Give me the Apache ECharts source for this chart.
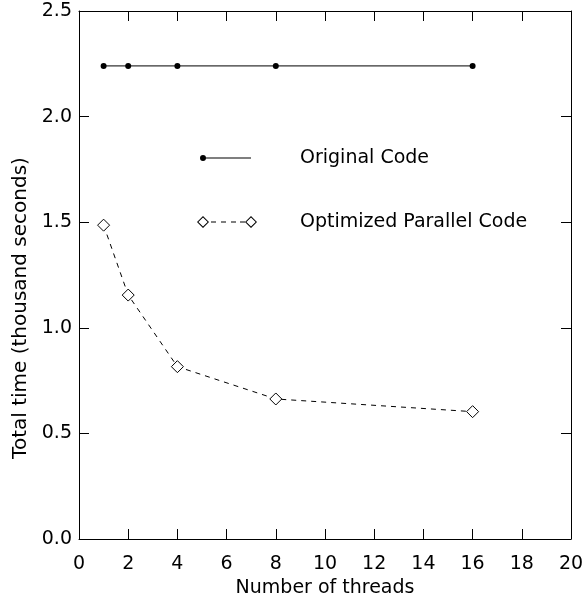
<!DOCTYPE html>
<html>
<head>
<meta charset="utf-8">
<script src="https://cdn.jsdelivr.net/npm/echarts@6/dist/echarts.min.js"></script>
<style>
html,body{margin:0;padding:0;background:#fff;}
#chart{width:584px;height:599px;}
</style>
</head>
<body>
<div id="chart"></div>
<script>
// ---- data ----
var threads = [1, 2, 4, 8, 16];
var originalTime = [2.24, 2.24, 2.24, 2.24, 2.24];
var optimizedTime = [1.486, 1.155, 0.816, 0.663, 0.603];
var seriesNames = ['Original Code', 'Optimized Parallel Code'];
var xTitle = 'Number of threads';
var yTitle = 'Total time (thousand seconds)';

function pairs(xs, ys) { return xs.map(function (x, i) { return [x, ys[i]]; }); }

var FONT = 'DejaVu Sans';
var chart = echarts.init(document.getElementById('chart'), null, {renderer: 'canvas'});

var axisCommon = {
  axisLine: {show: true, onZero: false, lineStyle: {color: '#000', width: 1}},
  axisTick: {show: true, inside: true, length: 10, lineStyle: {color: '#000', width: 1}},
  splitLine: {show: false},
  minorTick: {show: false}
};

function xAxis(pos, labels) {
  return Object.assign({}, axisCommon, {
    type: 'value', position: pos, min: 0, max: 20, interval: 2,
    axisLabel: {show: labels, color: '#000', fontFamily: FONT, fontSize: 19, margin: 16},
    name: labels ? xTitle : '', nameLocation: 'middle', nameGap: 40,
    nameTextStyle: {color: '#000', fontFamily: FONT, fontSize: 19}
  });
}
function yAxis(pos, labels) {
  return Object.assign({}, axisCommon, {
    type: 'value', position: pos, min: 0, max: 2.5, interval: 0.5,
    axisLabel: {show: labels, color: '#000', fontFamily: FONT, fontSize: 19, margin: 7,
      formatter: function (v) { return v.toFixed(1); }},
    name: labels ? yTitle : '', nameLocation: 'middle', nameGap: 48,
    nameTextStyle: {color: '#000', fontFamily: FONT, fontSize: 20, padding: [0, 66, 0, 0]}
  });
}

var icon1 = 'path://M0,3 A3,3 0 1 1 6,3 A3,3 0 1 1 0,3 Z M3,2.5 L51,2.5 L51,3.5 L3,3.5 Z';
var icon2 = 'path://M6,0 L12,6 L6,12 L0,6 Z M6,1.4 L1.4,6 L6,10.6 L10.6,6 Z ' +
            'M54,0 L60,6 L54,12 L48,6 Z M54,1.4 L49.4,6 L54,10.6 L58.6,6 Z ' +
            'M14,5.5 L19,5.5 L19,6.5 L14,6.5 Z M24,5.5 L29,5.5 L29,6.5 L24,6.5 Z ' +
            'M34,5.5 L39,5.5 L39,6.5 L34,6.5 Z M43,5.5 L48,5.5 L48,6.5 L43,6.5 Z';

function legend(name, icon, w, h, left, top, padLeft) {
  return {
    data: [name], left: left, top: top, padding: 0, selectedMode: false,
    icon: icon, itemWidth: w, itemHeight: h,
    itemStyle: {color: '#000', borderWidth: 0},
    textStyle: {color: '#000', fontFamily: FONT, fontSize: 19, lineHeight: 20, padding: [0, 0, 10, padLeft]}
  };
}

chart.setOption({
  animation: false,
  backgroundColor: '#fff',
  grid: {left: 79, right: 13, top: 11, bottom: 60, containLabel: false, outerBoundsMode: 'none'},
  xAxis: [xAxis('bottom', true), xAxis('top', false)],
  yAxis: [yAxis('left', true), yAxis('right', false)],
  legend: [
    legend(seriesNames[0], icon1, 51, 6, 200, 143, 44),
    legend(seriesNames[1], icon2, 60, 12, 197, 207, 38)
  ],
  series: [
    {
      name: seriesNames[0], type: 'line', data: pairs(threads, originalTime),
      symbol: 'circle', symbolSize: 6,
      itemStyle: {color: '#000'},
      lineStyle: {color: '#000', width: 1}
    },
    {
      name: seriesNames[1], type: 'line', data: pairs(threads, optimizedTime),
      symbol: 'diamond', symbolSize: 12,
      itemStyle: {color: '#fff', borderColor: '#000', borderWidth: 1},
      lineStyle: {color: '#000', width: 1, type: [5, 5]}
    }
  ]
});
</script>
</body>
</html>
